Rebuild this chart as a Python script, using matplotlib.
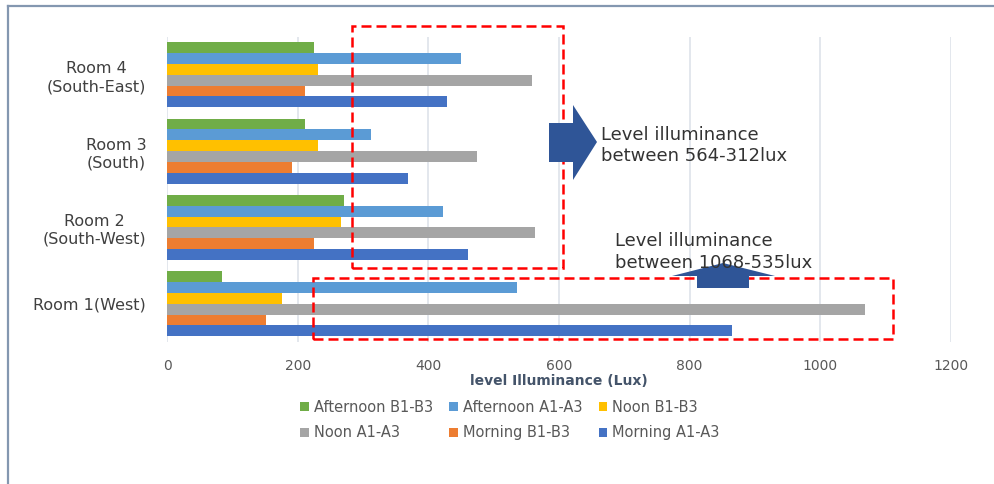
import matplotlib.pyplot as plt
from matplotlib.patches import Polygon, Rectangle
from matplotlib.lines import Line2D
import numpy as np

# data
rooms = ['Room 1(West)', 'Room 2\n(South-West)', 'Room 3\n(South)', 'Room 4\n(South-East)']
series = ['Morning A1-A3', 'Morning B1-B3', 'Noon A1-A3', 'Noon B1-B3',
          'Afternoon A1-A3', 'Afternoon B1-B3']
morning_a = [865, 461, 369, 428]
morning_b = [152, 225, 192, 211]
noon_a = [1068, 564, 474, 559]
noon_b = [176, 266, 231, 231]
afternoon_a = [535, 423, 312, 450]
afternoon_b = [84, 271, 211, 225]
colors = ['#4472C4', '#ED7D31', '#A5A5A5', '#FFC000', '#5B9BD5', '#70AD47']

W, H = 994, 484
fig = plt.figure(figsize=(W / 100, H / 100), dpi=100)
ax = fig.add_axes([167 / W, 1 - 342 / H, (951 - 167) / W, (342 - 36.5) / H])


def px(x, y):
    # pixel position -> figure fraction
    return (x / W, 1 - y / H)


values = [morning_a, morning_b, noon_a, noon_b, afternoon_a, afternoon_b]
y = np.arange(len(rooms))
h = 0.1416
bars = []
for k, (vals, name, c) in enumerate(zip(values, series, colors)):
    b = ax.barh(y + (k - 2.5) * h, vals, height=h, color=c, label=name, zorder=3)
    bars.append(b)

ax.set_xlim(0, 1200)
ax.set_ylim(-0.5, 3.5)
ax.set_xticks(np.arange(0, 1201, 200))
ax.set_yticks(y)
ax.set_yticklabels(rooms, fontsize=11.5, color='#404040', family='DejaVu Sans')
for t in ax.get_yticklabels():
    t.set_multialignment('center')
    t.set_linespacing(1.25)
ax.tick_params(axis='y', length=0, pad=15)
ax.tick_params(axis='x', length=0, pad=12, labelsize=10, labelcolor='#595959')
for s in ax.spines.values():
    s.set_visible(False)
ax.grid(axis='x', color='#E1E5EC', linewidth=1.3, zorder=0)
ax.set_xlabel('level Illuminance (Lux)', fontsize=10, fontweight='bold',
              color='#44546A', labelpad=1)

# legend in Excel row order
order = [5, 2, 4, 1, 3, 0]
leg = fig.legend([bars[i] for i in order], [series[i] for i in order],
                 loc='center', bbox_to_anchor=(510 / W, 1 - 420 / H), ncol=3,
                 frameon=False, fontsize=10.5, handlelength=0.6, handleheight=0.6,
                 handletextpad=0.35, columnspacing=1.1, labelspacing=0.75)
for t in leg.get_texts():
    t.set_color('#595959')

# red dashed boxes marking value ranges
ax.add_patch(Rectangle((283, 0.465), 606 - 283, 3.64 - 0.465, fill=False,
                       edgecolor='#FF0000', lw=1.8, ls=(0, (4, 2)),
                       clip_on=False, zorder=5))
ax.add_patch(Rectangle((223, -0.465), 1111 - 223, 0.334 + 0.465, fill=False,
                       edgecolor='#FF0000', lw=1.8, ls=(0, (4, 2)),
                       clip_on=False, zorder=5))

# block arrows
arrow_c = '#2F5597'
right_arrow = [px(549, 123), px(573, 123), px(573, 105), px(597, 142),
               px(573, 180), px(573, 162), px(549, 162)]
up_arrow = [px(697, 288), px(697, 276), px(672, 276), px(723, 263),
            px(775, 276), px(749, 276), px(749, 288)]
for pts in (right_arrow, up_arrow):
    fig.patches.append(Polygon(pts, closed=True, facecolor=arrow_c,
                               edgecolor='none', transform=fig.transFigure))

fig.text(*px(601, 145.5), 'Level illuminance\nbetween 564-312lux', fontsize=13,
         color='#333333', ha='left', va='center', linespacing=1.25)
fig.text(*px(615, 252), 'Level illuminance\nbetween 1068-535lux', fontsize=13,
         color='#333333', ha='left', va='center', linespacing=1.25, zorder=10)

# outer frame (top and left edges visible)
frame_c = '#8497B0'
fig.add_artist(Line2D([8 / W, 1], [1 - 6 / H, 1 - 6 / H], color=frame_c, lw=1.6,
                      transform=fig.transFigure))
fig.add_artist(Line2D([8 / W, 8 / W], [0, 1 - 6 / H], color=frame_c, lw=1.6,
                      transform=fig.transFigure))

fig.savefig('out.png', dpi=100)
